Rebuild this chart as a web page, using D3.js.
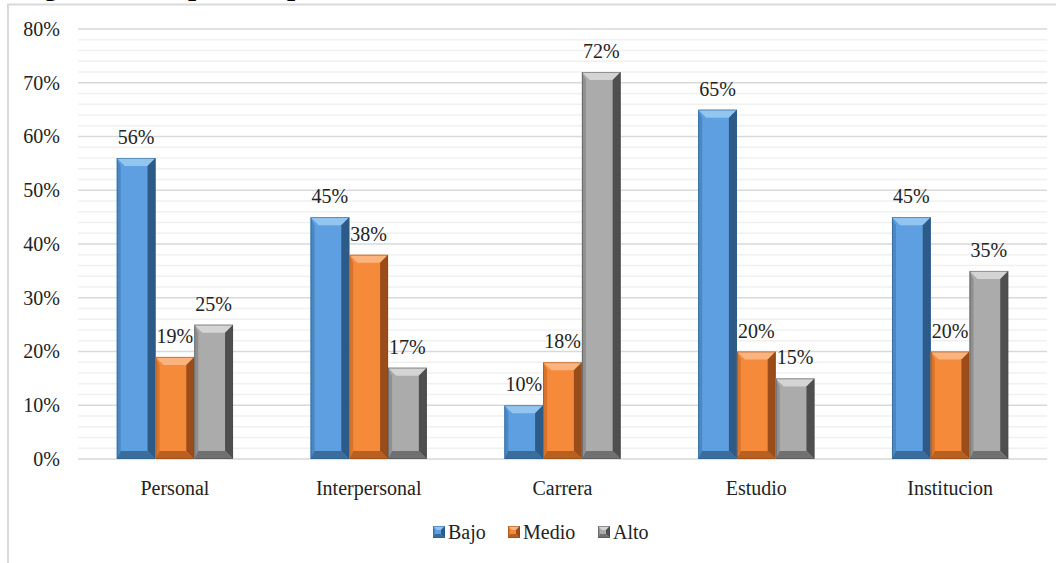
<!DOCTYPE html>
<html><head><meta charset="utf-8">
<script src="https://cdn.jsdelivr.net/npm/d3@7"></script>
<style>html,body{margin:0;padding:0;background:#fff;overflow:hidden}svg{display:block}</style>
</head><body>
<svg id="c" width="1056" height="563"></svg>
<script>
const categories = ["Personal","Interpersonal","Carrera","Estudio","Institucion"];
const seriesNames = ["Bajo","Medio","Alto"];
const bajo  = [56,45,10,65,45];
const medio = [19,38,18,20,20];
const alto  = [25,17,72,15,35];
const yTicks = [0,10,20,30,40,50,60,70,80];
const series = [bajo, medio, alto];
const pal = [
  {main:"#5d9fe0", top:"#93c5f1", left:"#4b88c3", right:"#2d5a86", bottom:"#3a6c9c", stroke:"#2b5a87"},
  {main:"#f68a3b", top:"#fbb47d", left:"#d9742c", right:"#9a4c1a", bottom:"#b8601f", stroke:"#8a4416"},
  {main:"#ababab", top:"#d4d4d4", left:"#8f8f8f", right:"#4f4f4f", bottom:"#707070", stroke:"#4a4a4a"}
];
const svg = d3.select("#c");
const font = "'Liberation Serif','Times New Roman',serif";

// clipped caption at very top (only lower part visible, as in the reference)
svg.append("text").attr("x",18).attr("y",-5).attr("font-family",font).attr("font-weight","bold")
  .attr("font-size",29).attr("fill","#000").text("Figura 1, Adaptación por dimensiones");

// frame
svg.append("rect").attr("x",8).attr("y",4.5).attr("width",1100).attr("height",600)
  .attr("fill","none").attr("stroke","#d9d9d9").attr("stroke-width",2);

const L=78,R=1047,T=29,B=459;
const y = d3.scaleLinear().domain([0,80]).range([B,T]);
const x0 = d3.scaleBand().domain(categories).range([L,R]).paddingInner(0.4).paddingOuter(0.2);
const x1 = d3.scaleBand().domain(seriesNames).range([0,x0.bandwidth()]);

// minor gridlines
const minor = d3.range(0,81,2).filter(v=>v%10!==0);
svg.append("g").selectAll("line").data(minor).join("line")
  .attr("x1",L).attr("x2",R).attr("y1",d=>y(d)).attr("y2",d=>y(d))
  .attr("stroke","#f0f0f0").attr("stroke-width",1.5);
// major gridlines
svg.append("g").selectAll("line").data(yTicks).join("line")
  .attr("x1",L).attr("x2",R).attr("y1",d=>y(d)).attr("y2",d=>y(d))
  .attr("stroke","#d9d9d9").attr("stroke-width",1.5);

// y axis labels
const yAxis = d3.axisLeft(y).tickValues(yTicks).tickFormat(d=>d+"%").tickSize(0).tickPadding(0);
const ga = svg.append("g").attr("transform","translate(60,0)").call(yAxis);
ga.select(".domain").remove();
ga.selectAll("text").attr("font-family",font).attr("font-size",20).attr("fill","#222").attr("dy","0.32em");

function bevelBar(g, bx, by, w, h, c, b){
  if(h<=0) return;
  const bb = Math.min(b, h/2);
  g.append("rect").attr("x",bx).attr("y",by).attr("width",w).attr("height",h).attr("fill",c.main);
  g.append("polygon").attr("points",[[bx,by],[bx+w,by],[bx+w-bb,by+bb],[bx+bb,by+bb]].join(" ")).attr("fill",c.top);
  g.append("polygon").attr("points",[[bx,by],[bx+bb*0.5,by+bb],[bx+bb*0.5,by+h-bb],[bx,by+h]].join(" ")).attr("fill",c.left);
  g.append("polygon").attr("points",[[bx+w,by],[bx+w-bb,by+bb],[bx+w-bb,by+h-bb],[bx+w,by+h]].join(" ")).attr("fill",c.right);
  g.append("polygon").attr("points",[[bx,by+h],[bx+bb*0.5,by+h-bb],[bx+w-bb,by+h-bb],[bx+w,by+h]].join(" ")).attr("fill",c.bottom);
  g.append("rect").attr("x",bx+0.5).attr("y",by+0.5).attr("width",w-1).attr("height",h-1)
    .attr("fill","none").attr("stroke",c.stroke).attr("stroke-width",0.8).attr("stroke-opacity",0.6);
}

const gb = svg.append("g");
categories.forEach((cat,i)=>{
  seriesNames.forEach((s,j)=>{
    const v = series[j][i];
    const bx = x0(cat)+x1(s), w = x1.bandwidth();
    bevelBar(gb, bx, y(v), w, B-y(v), pal[j], 8);
  });
});
// value labels
const gl = svg.append("g");
categories.forEach((cat,i)=>{
  seriesNames.forEach((s,j)=>{
    const v = series[j][i];
    gl.append("text").attr("x",x0(cat)+x1(s)+x1.bandwidth()/2).attr("y",y(v)-14)
      .attr("text-anchor","middle").attr("font-family",font).attr("font-size",20).attr("fill","#222")
      .text(v+"%");
  });
});

// category labels
const xAxis = d3.axisBottom(x0).tickSize(0).tickPadding(0);
const gx = svg.append("g").attr("transform","translate(0,495)").call(xAxis);
gx.select(".domain").remove();
gx.selectAll("text").attr("font-family",font).attr("font-size",20).attr("fill","#222").attr("dy","0");

// legend
const legX = [433,508,598];
const lg = svg.append("g");
seriesNames.forEach((s,j)=>{
  const gg = lg.append("g");
  bevelBar(gg, legX[j], 526, 12, 12, pal[j], 4);
  gg.append("text").attr("x",legX[j]+15).attr("y",539).attr("font-family",font).attr("font-size",20)
    .attr("fill","#222").text(s);
});
</script>
</body></html>
